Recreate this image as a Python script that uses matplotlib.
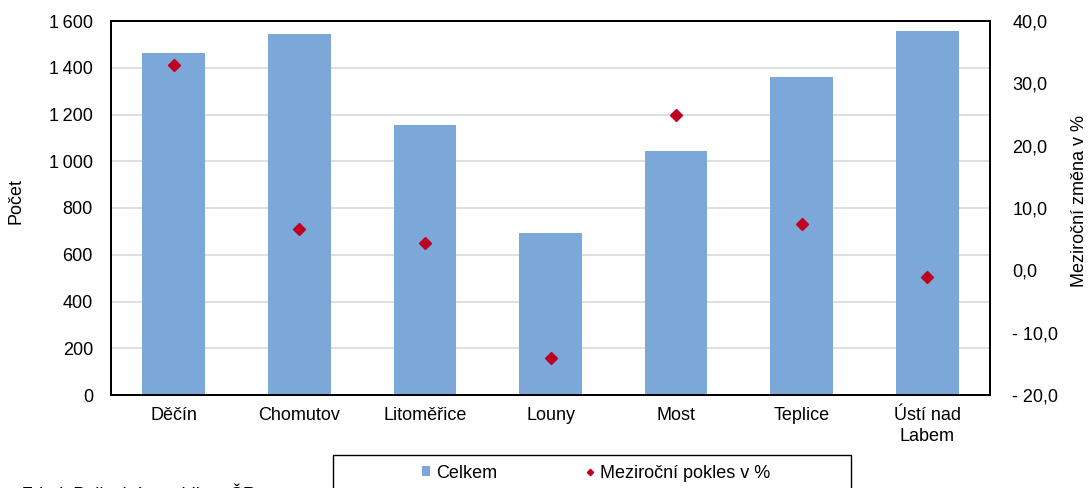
import matplotlib
matplotlib.use("Agg")
import matplotlib.pyplot as plt
from matplotlib.ticker import FuncFormatter
from matplotlib.lines import Line2D
from matplotlib.patches import Patch, Rectangle
import numpy as np

plt.rcParams['font.family'] = ['Liberation Sans', 'DejaVu Sans']

categories = ["Děčín", "Chomutov", "Litoměřice", "Louny", "Most", "Teplice", "Ústí nad\nLabem"]
celkem = [1463, 1544, 1155, 693, 1044, 1360, 1557]
mezirocni = [32.9, 6.6, 4.4, -14.1, 24.9, 7.4, -1.1]

bar_color = "#7BA7D9"
mk_color = "#C00020"
FS = 13

W, H = 1089, 488
fig = plt.figure(figsize=(W / 100, H / 100), dpi=100)
ax = fig.add_axes([111 / W, 93 / H, 879 / W, 374 / H])
x = np.arange(len(categories))
ax.bar(x, celkem, width=0.5, color=bar_color, zorder=2)
ax.set_xlim(-0.5, len(categories) - 0.5)
ax.set_ylim(0, 1600)
ax.set_yticks(np.arange(0, 1601, 200))
ax.yaxis.set_major_formatter(FuncFormatter(lambda v, p: f"{int(v):,}".replace(",", "\u2009")))
ax.grid(axis='y', color="#D9D9D9", linewidth=1.2, zorder=0)
ax.set_axisbelow(True)
ax.set_xticks(x)
ax.set_xticklabels(categories, fontsize=FS, linespacing=1.25)
ax.tick_params(axis='y', length=0, labelsize=FS, pad=13)
ax.tick_params(axis='x', length=0, labelsize=FS, pad=9)
ax.set_ylabel("Počet", fontsize=FS)
ax.yaxis.set_label_coords(-86 / 879, 0.52)
for s in ax.spines.values():
    s.set_color("black")
    s.set_linewidth(1.3)

ax2 = ax.twinx()
ax2.set_ylim(-20, 40)
ax2.set_yticks(np.arange(-20, 41, 10))
ax2.yaxis.set_major_formatter(FuncFormatter(
    lambda v, p: (f"{v:.1f}".replace(".", ",") if v >= 0 else "- " + f"{-v:.1f}".replace(".", ","))))
ax2.plot(x, mezirocni, linestyle="none", marker="D", markersize=6.6, color=mk_color, zorder=3)
ax2.tick_params(axis='y', length=0, labelsize=FS, pad=16)
ax2.set_ylabel("Meziroční změna v %", fontsize=FS)
ax2.yaxis.set_label_coords(1 + 81 / 879, 0.52)
for s in ax2.spines.values():
    s.set_color("black")
    s.set_linewidth(1.3)

# legend frame (partly cut off at the bottom edge, as in the reference)
fig.patches.append(Rectangle((333 / W, -20 / H), 518 / W, (488 - 455 + 20) / H,
                             transform=fig.transFigure, fill=False,
                             edgecolor="black", linewidth=1.0))
handles = [Patch(facecolor=bar_color, edgecolor='none', label="Celkem"),
           Line2D([], [], linestyle="none", marker="D", markersize=3.2, color=mk_color,
                  label="Meziroční pokles v %")]
fig.legend(handles=handles, loc="center",
           bbox_to_anchor=(596 / W, 1 - 473 / H),
           ncol=2, frameon=False, fontsize=FS,
           handlelength=0.45, handleheight=0.45, handletextpad=0.35, columnspacing=4.9,
           borderpad=0, borderaxespad=0)

fig.text(22 / W, 1 - 484 / H, "Zdroj: Policejní prezidium ČR", fontsize=FS, va="top", ha="left")

fig.savefig("out.png", dpi=100)
